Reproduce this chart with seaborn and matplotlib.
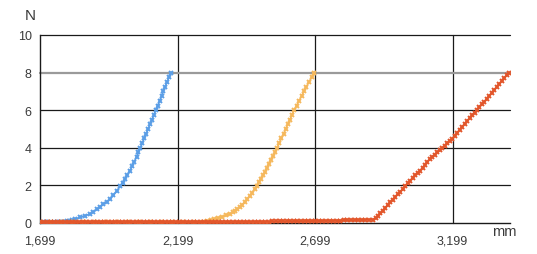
import numpy as np
import pandas as pd
import matplotlib
matplotlib.use("Agg")
import matplotlib.pyplot as plt
import seaborn as sns

# ---------------- data ----------------
x_ticks = [1.699, 2.199, 2.699, 3.199]
x_tick_labels = ["1,699", "2,199", "2,699", "3,199"]
y_ticks = [0, 2, 4, 6, 8, 10]

blue_x = [1.699, 1.709, 1.719, 1.729, 1.739, 1.749, 1.759, 1.767, 1.775, 1.783,
          1.790, 1.798, 1.805, 1.816,
          1.826, 1.845, 1.862, 1.881, 1.893, 1.905, 1.917, 1.929, 1.942, 1.954,
          1.966, 1.978, 1.990, 1.999, 2.008, 2.017, 2.026, 2.034, 2.042, 2.050,
          2.057, 2.064, 2.071, 2.078, 2.085, 2.092, 2.099, 2.106, 2.113, 2.120,
          2.127, 2.134, 2.141, 2.147, 2.154, 2.161, 2.168, 2.175]
blue_y = [0.05, 0.05, 0.05, 0.05, 0.05, 0.05, 0.05, 0.05, 0.05, 0.05,
          0.06, 0.08, 0.10, 0.15,
          0.21, 0.30, 0.38, 0.48, 0.60, 0.72, 0.84, 1.00, 1.14, 1.28,
          1.48, 1.70, 1.95, 2.15, 2.35, 2.56, 2.78, 3.02, 3.27, 3.52,
          3.76, 4.00, 4.25, 4.50, 4.75, 5.00, 5.25, 5.50, 5.75, 6.00,
          6.25, 6.50, 6.75, 7.00, 7.25, 7.50, 7.75, 8.00]

yellow_x = [1.699, 1.739, 1.779, 1.819, 1.859, 1.899, 1.939, 1.979, 2.019,
            2.059, 2.099, 2.139, 2.179, 2.219, 2.259, 2.290, 2.305, 2.320,
            2.333, 2.348, 2.362, 2.376, 2.390, 2.399, 2.408, 2.417, 2.426, 2.435,
            2.444, 2.453, 2.463, 2.471, 2.479, 2.487, 2.495, 2.502, 2.510, 2.517,
            2.524, 2.531, 2.538, 2.546, 2.554, 2.561, 2.569, 2.577, 2.585, 2.592,
            2.600, 2.608, 2.615, 2.623, 2.632, 2.641, 2.650, 2.659, 2.668, 2.677,
            2.687, 2.696]
yellow_y = [0.05, 0.05, 0.05, 0.05, 0.05, 0.05, 0.05, 0.05, 0.05,
            0.05, 0.05, 0.05, 0.05, 0.05, 0.05, 0.07, 0.10, 0.15,
            0.21, 0.27, 0.33, 0.40, 0.48, 0.56, 0.65, 0.74, 0.84, 0.97,
            1.11, 1.27, 1.45, 1.62, 1.80, 1.99, 2.18, 2.36, 2.54, 2.70,
            2.92, 3.14, 3.36, 3.56, 3.76, 4.00, 4.25, 4.50, 4.75, 5.00,
            5.25, 5.50, 5.75, 6.00, 6.25, 6.50, 6.75, 7.00, 7.25, 7.50,
            7.75, 8.00]

red_x = [1.699, 1.712, 1.725, 1.738, 1.751, 1.764, 1.777, 1.790, 1.803, 1.816,
         1.829, 1.842, 1.855, 1.868, 1.881, 1.894, 1.907, 1.920, 1.933, 1.946,
         1.959, 1.972, 1.985, 1.998, 2.011, 2.024, 2.037, 2.050, 2.063, 2.076,
         2.089, 2.102, 2.115, 2.128, 2.141, 2.154, 2.167, 2.180, 2.193, 2.206,
         2.219, 2.232, 2.245, 2.258, 2.271, 2.284, 2.297, 2.310, 2.323, 2.336,
         2.349, 2.362, 2.375, 2.388, 2.401, 2.414, 2.427, 2.440, 2.453, 2.466,
         2.479, 2.492, 2.505, 2.518, 2.531, 2.544, 2.557, 2.570, 2.583, 2.596,
         2.609, 2.622, 2.635, 2.648, 2.661, 2.674, 2.687, 2.700, 2.713, 2.726,
         2.739, 2.752, 2.765, 2.778, 2.791, 2.804, 2.817, 2.830, 2.843, 2.856,
         2.869, 2.882, 2.895,
         2.910, 2.919, 2.928, 2.937, 2.946, 2.955, 2.964, 2.973, 2.982, 2.991,
         3.000, 3.009, 3.018, 3.027, 3.036, 3.045, 3.054, 3.063, 3.072, 3.081,
         3.090, 3.099, 3.108, 3.117, 3.126, 3.135, 3.144, 3.153, 3.162, 3.171,
         3.180, 3.189, 3.198, 3.207, 3.216, 3.225, 3.234, 3.243, 3.252, 3.261,
         3.270, 3.279, 3.288, 3.297, 3.306, 3.315, 3.324, 3.333, 3.342, 3.351,
         3.360, 3.369, 3.378, 3.387, 3.396, 3.404]
red_y = [0.05, 0.05, 0.05, 0.05, 0.05, 0.05, 0.05, 0.05, 0.05, 0.05,
         0.05, 0.05, 0.05, 0.05, 0.05, 0.05, 0.05, 0.05, 0.05, 0.05,
         0.05, 0.05, 0.05, 0.05, 0.05, 0.05, 0.05, 0.05, 0.05, 0.05,
         0.05, 0.05, 0.05, 0.05, 0.05, 0.05, 0.05, 0.05, 0.05, 0.05,
         0.05, 0.05, 0.05, 0.05, 0.05, 0.05, 0.05, 0.05, 0.05, 0.05,
         0.05, 0.05, 0.05, 0.05, 0.05, 0.06, 0.06, 0.06, 0.06, 0.06,
         0.07, 0.07, 0.07, 0.07, 0.07, 0.08, 0.08, 0.08, 0.08, 0.09,
         0.09, 0.09, 0.09, 0.10, 0.10, 0.10, 0.10, 0.11, 0.11, 0.11,
         0.12, 0.12, 0.12, 0.13, 0.13, 0.14, 0.14, 0.15, 0.15, 0.16,
         0.16, 0.17, 0.18,
         0.18, 0.26, 0.38, 0.51, 0.66, 0.81, 0.96, 1.11, 1.25, 1.39,
         1.52, 1.65, 1.81, 1.96, 2.11, 2.26, 2.40, 2.54, 2.66, 2.79,
         2.94, 3.09, 3.25, 3.40, 3.53, 3.64, 3.76, 3.88, 3.99, 4.12,
         4.25, 4.38, 4.49, 4.64, 4.80, 4.96, 5.12, 5.27, 5.42, 5.57,
         5.72, 5.87, 6.02, 6.16, 6.31, 6.46, 6.62, 6.77, 6.93, 7.08,
         7.24, 7.39, 7.55, 7.70, 7.86, 8.00]

series = [("blue", blue_x, blue_y, "#5b9ee6"),
          ("yellow", yellow_x, yellow_y, "#f5b85c"),
          ("red", red_x, red_y, "#e2562b")]

# ---------------- figure ----------------
sns.set_style("white")
plt.rcParams["font.family"] = ["Liberation Sans", "DejaVu Sans"]

fig = plt.figure(figsize=(5.37, 2.55), dpi=100)
ax = fig.add_axes([40 / 537, 1 - 224 / 255, 470 / 537, 188 / 255])

for name, xs, ys, col in series:
    df = pd.DataFrame({"x": xs, "y": ys})
    sns.lineplot(data=df, x="x", y="y", ax=ax, color=col, estimator=None,
                 sort=False, linewidth=1.2, marker="x", markersize=3.5,
                 mew=1.4, mec=col, zorder=3)

ax.set_xlim(1.699, 1.699 + 470 / 275)
ax.set_ylim(0, 10)
ax.set_xticks(x_ticks)
ax.set_xticklabels(x_tick_labels)
ax.set_yticks(y_ticks)
ax.set_xlabel("")
ax.set_ylabel("")

ax.grid(True, color="#1a1a1a", linewidth=0.9)
for gl in ax.yaxis.get_gridlines() + ax.xaxis.get_gridlines():
    gl.set_clip_on(False)
ax.yaxis.get_gridlines()[4].set_color("#9a9a9a")
ax.yaxis.get_gridlines()[4].set_linewidth(1.6)
ax.xaxis.get_gridlines()[0].set_visible(False)
ax.yaxis.get_gridlines()[0].set_visible(False)

for s in ["top", "right"]:
    ax.spines[s].set_visible(False)
for s in ["left", "bottom"]:
    ax.spines[s].set_color("#1a1a1a")
    ax.spines[s].set_linewidth(1.0)

ax.tick_params(axis="both", which="both", labelsize=9, colors="#3a3a3a",
               length=4, width=0.9, direction="out")
ax.tick_params(axis="x", pad=4)
ax.tick_params(axis="y", pad=2)
ax.tick_params(axis="both", color="#1a1a1a")

fig.text(30 / 537, 1 - 16 / 255, "N", fontsize=11, color="#3a3a3a",
         ha="center", va="center")
fig.text(504 / 537, 1 - 232 / 255, "mm", fontsize=10.5, color="#3a3a3a",
         ha="center", va="center")

fig.savefig("out.png", dpi=100)
